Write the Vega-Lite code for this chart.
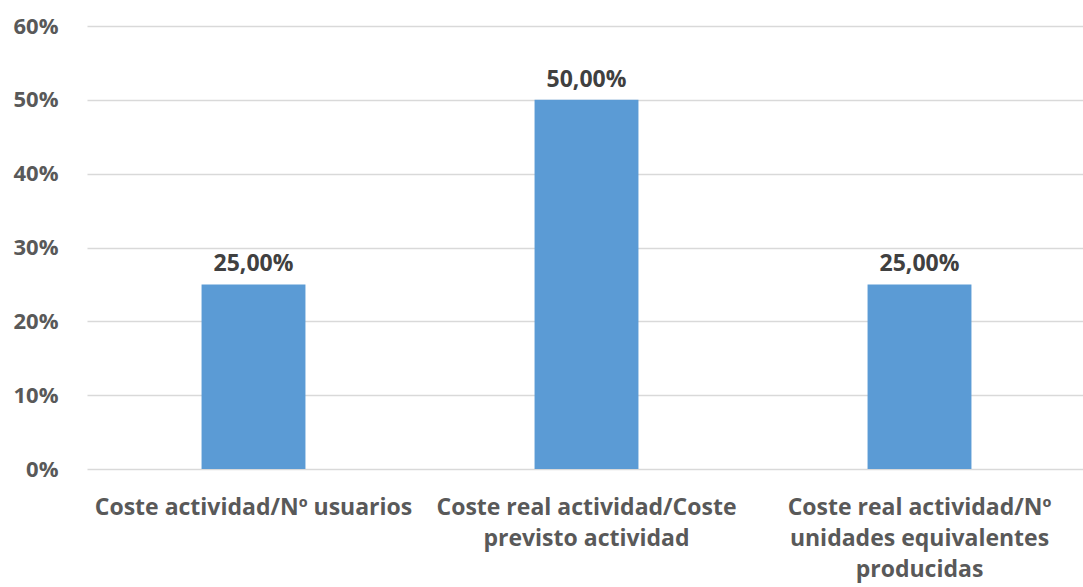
{
  "$schema": "https://vega.github.io/schema/vega-lite/v6.json",
  "autosize": "none",
  "width": 999,
  "height": 443,
  "padding": {"left": 87, "top": 26, "right": 0, "bottom": 118},
  "background": "white",
  "config": {
    "view": {"stroke": null},
    "font": "Open Sans",
    "locale": {"number": {"decimal": ",", "thousands": ".", "grouping": [3], "currency": ["", " €"]}}
  },
  "data": {
    "values": [
      {"cat": "Coste actividad/Nº usuarios", "value": 0.25},
      {"cat": "Coste real actividad/Coste|previsto actividad", "value": 0.5},
      {"cat": "Coste real actividad/Nº|unidades equivalentes|producidas", "value": 0.25}
    ]
  },
  "encoding": {
    "x": {
      "field": "cat", "type": "nominal", "sort": null,
      "scale": {"paddingInner": 0.688, "paddingOuter": 0.344},
      "axis": {
        "title": null, "labelAngle": 0, "domain": false, "ticks": false,
        "labelExpr": "split(datum.label, '|')",
        "labelFont": "Open Sans", "labelFontWeight": "bold", "labelFontSize": 23,
        "labelColor": "#595959", "labelPadding": 27, "labelLineHeight": 31,
        "labelBaseline": "top", "labelLimit": 400
      }
    },
    "y": {
      "field": "value", "type": "quantitative",
      "scale": {"domain": [0, 0.6]},
      "axis": {
        "title": null, "format": "0%", "values": [0, 0.1, 0.2, 0.3, 0.4, 0.5, 0.6],
        "labelOverlap": false,
        "domain": false, "ticks": false,
        "grid": true, "gridColor": "#d9d9d9", "gridWidth": 1.5,
        "labelFont": "Open Sans", "labelFontWeight": "bold", "labelFontSize": 22,
        "labelColor": "#595959", "labelPadding": 29
      }
    }
  },
  "layer": [
    {"mark": {"type": "bar", "color": "#5B9BD5"}},
    {
      "mark": {"type": "text", "baseline": "alphabetic", "dy": -13, "font": "Open Sans", "fontWeight": "bold", "fontSize": 23, "color": "#404040"},
      "encoding": {"text": {"field": "value", "type": "quantitative", "format": ".2%"}}
    }
  ]
}
